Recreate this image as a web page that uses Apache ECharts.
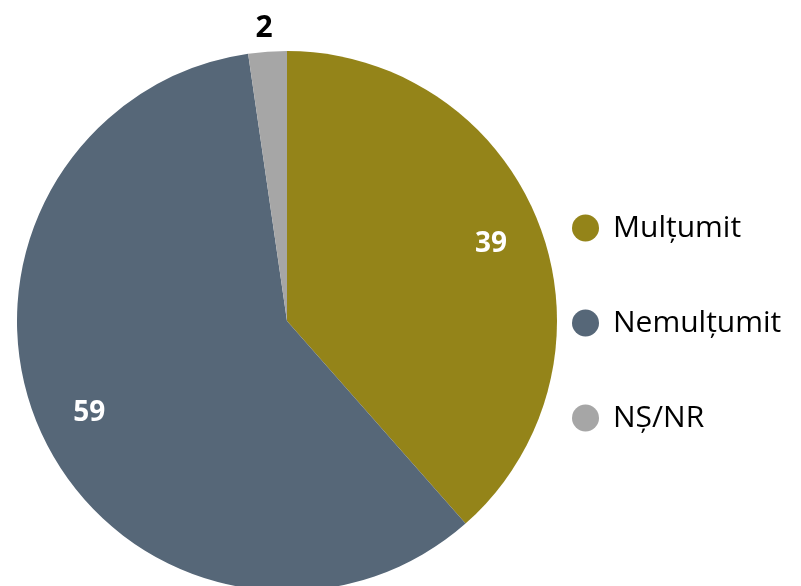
<!DOCTYPE html>
<html>
<head>
<meta charset="utf-8">
<script src="https://cdn.jsdelivr.net/npm/echarts@6/dist/echarts.min.js"></script>
<style>
  html, body { margin: 0; padding: 0; background: #fff; }
  #chart { width: 801px; height: 586px; }
</style>
</head>
<body>
<div id="chart"></div>
<script>
// date din grafic
const categories = ['Mulțumit', 'Nemulțumit', 'NȘ/NR'];
const values = [38.5, 59.2, 2.3];     // marimea feliilor (estimata din desen)
const labels = ['39', '59', '2'];     // valorile afisate
const colors = ['#948419', '#566778', '#a6a6a6'];

const FONT = '"Open Sans", "Noto Sans", sans-serif';

let chart = echarts.init(document.getElementById('chart'));

// feliile de baza
let baseData = categories.map((name, i) => {
    return { name: name, value: values[i], itemStyle: { color: colors[i] } };
});

// seria transparenta doar pentru etichete (mai aproape de margine)
let labelData = categories.map((name, i) => {
    let small = values[i] < 5;
    return {
        name: name,
        value: values[i],
        label: small ? {
            position: 'outside',
            color: '#000',
            fontSize: 30
        } : {
            position: 'inside',
            color: '#fff',
            fontSize: 28
        },
        labelLine: { show: false, length: 26, length2: 0 }
    };
});

let option = {
    animation: false,
    legend: {
        orient: 'vertical',
        left: 572,
        top: 212,
        padding: 0,
        icon: 'circle',
        itemWidth: 27,
        itemHeight: 27,
        itemGap: 63,
        textStyle: {
            fontFamily: FONT,
            fontSize: 30,
            lineHeight: 32,
            color: '#000',
            padding: [0, 0, 0, 9]
        },
        data: categories.map((name, i) => ({ name: name, itemStyle: { color: colors[i] } }))
    },
    series: [
        {
            type: 'pie',
            center: [287, 321],
            radius: [0, 270],
            startAngle: 90,
            clockwise: true,
            silent: true,
            label: { show: false },
            labelLine: { show: false },
            data: baseData
        },
        {
            type: 'pie',
            center: [287, 321],
            radius: [160, 270],
            startAngle: 90,
            clockwise: true,
            silent: true,
            avoidLabelOverlap: false,
            itemStyle: { color: 'transparent' },
            label: {
                show: true,
                formatter: (p) => labels[p.dataIndex],
                fontFamily: FONT,
                fontWeight: 'bold'
            },
            labelLayout: (params) => {
                // eticheta mica sta centrata deasupra feliei
                if (values[params.dataIndex] < 5) {
                    return { dx: 12, dy: 3 };
                }
                return {};
            },
            data: labelData
        }
    ]
};
chart.setOption(option);
</script>
</body>
</html>
